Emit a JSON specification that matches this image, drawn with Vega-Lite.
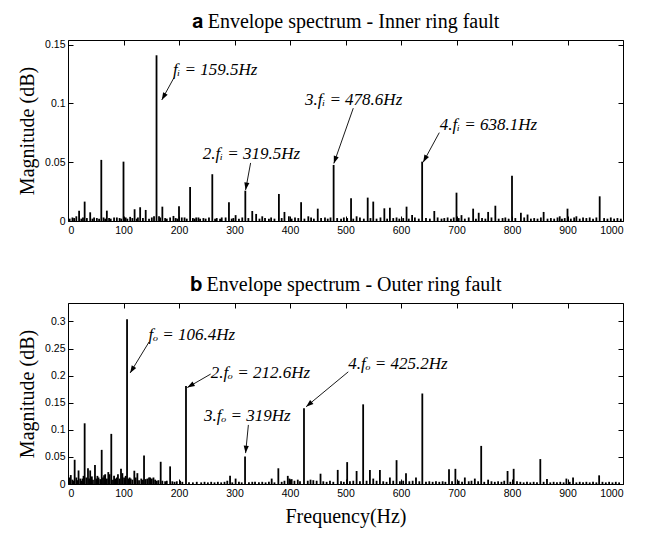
{
  "$schema": "https://vega.github.io/schema/vega-lite/v6.json",
  "padding": {"left": 17, "top": 11, "right": 5, "bottom": 5},
  "background": "white",
  "config": {
    "view": {"stroke": "black", "strokeWidth": 1},
    "axis": {"grid": false, "domain": false, "ticks": true, "tickSize": 5, "offset": -5, "tickColor": "black", "tickWidth": 1, "labelColor": "black", "labelFont": "Liberation Sans", "labelFontSize": 10.5, "labelPadding": 3, "titleFont": "Liberation Serif", "titleFontSize": 20, "titleFontWeight": "normal", "titleColor": "black"},
    "title": {"font": "Liberation Serif", "fontSize": 20, "fontWeight": "normal", "color": "black", "anchor": "middle", "offset": 8},
    "concat": {"spacing": 38}
  },
  "datasets": {
    "a": [
      {"f":15,"m":0.004},{"f":20,"m":0.0088},{"f":30,"m":0.0165},{"f":40,"m":0.0074},{"f":60,"m":0.052},{"f":70,"m":0.0088},{"f":83,"m":0.003},{"f":100,"m":0.0505},{"f":112,"m":0.0035},{"f":120,"m":0.010},{"f":130,"m":0.0117},{"f":140,"m":0.0094},{"f":159.5,"m":0.141},{"f":170,"m":0.0122},{"f":190,"m":0.0043},{"f":200,"m":0.0125},{"f":210,"m":0.003},{"f":220,"m":0.029},{"f":231,"m":0.003},{"f":260,"m":0.0398},{"f":277,"m":0.003},{"f":290,"m":0.016},{"f":302,"m":0.005},{"f":319.5,"m":0.0258},{"f":332,"m":0.0085},{"f":339,"m":0.006},{"f":350,"m":0.004},{"f":380,"m":0.023},{"f":390,"m":0.0077},{"f":398,"m":0.004},{"f":409,"m":0.003},{"f":420,"m":0.016},{"f":433,"m":0.004},{"f":450,"m":0.0105},{"f":463,"m":0.003},{"f":478.6,"m":0.0477},{"f":510,"m":0.0193},{"f":520,"m":0.004},{"f":540,"m":0.0199},{"f":550,"m":0.0165},{"f":570,"m":0.0108},{"f":580,"m":0.0113},{"f":610,"m":0.0122},{"f":620,"m":0.005},{"f":638.1,"m":0.0505},{"f":660,"m":0.0085},{"f":700,"m":0.0241},{"f":709,"m":0.005},{"f":730,"m":0.0105},{"f":740,"m":0.007},{"f":757,"m":0.0077},{"f":770,"m":0.013},{"f":800,"m":0.0386},{"f":816,"m":0.007},{"f":828,"m":0.0055},{"f":857,"m":0.0077},{"f":886,"m":0.004},{"f":900,"m":0.0105},{"f":916,"m":0.004},{"f":928,"m":0.003},{"f":940,"m":0.003},{"f":958,"m":0.021},
      {"f":3,"m":0.002},{"f":8,"m":0.003},{"f":11,"m":0.0025},{"f":24,"m":0.002},{"f":27,"m":0.003},{"f":34,"m":0.0025},{"f":44,"m":0.002},{"f":47,"m":0.003},{"f":52,"m":0.0025},{"f":56,"m":0.002},{"f":64,"m":0.003},{"f":67,"m":0.002},{"f":74,"m":0.0025},{"f":77,"m":0.002},{"f":88,"m":0.003},{"f":93,"m":0.0025},{"f":96,"m":0.002},{"f":104,"m":0.003},{"f":107,"m":0.002},{"f":116,"m":0.0025},{"f":124,"m":0.002},{"f":126,"m":0.003},{"f":135,"m":0.0025},{"f":146,"m":0.002},{"f":151,"m":0.003},{"f":155,"m":0.004},{"f":164,"m":0.004},{"f":166,"m":0.003},{"f":175,"m":0.0025},{"f":178,"m":0.002},{"f":184,"m":0.003},{"f":194,"m":0.0025},{"f":197,"m":0.002},{"f":205,"m":0.003},{"f":214,"m":0.002},{"f":225,"m":0.0025},{"f":228,"m":0.002},{"f":235,"m":0.003},{"f":238,"m":0.002},{"f":244,"m":0.0025},{"f":248,"m":0.002},{"f":254,"m":0.003},{"f":265,"m":0.002},{"f":268,"m":0.0025},{"f":274,"m":0.002},{"f":284,"m":0.003},{"f":295,"m":0.002},{"f":298,"m":0.0025},{"f":308,"m":0.002},{"f":314,"m":0.003},{"f":325,"m":0.0025},{"f":345,"m":0.002},{"f":355,"m":0.0025},{"f":362,"m":0.002},{"f":366,"m":0.003},{"f":372,"m":0.002},{"f":385,"m":0.0025},{"f":403,"m":0.002},{"f":415,"m":0.0025},{"f":426,"m":0.002},{"f":438,"m":0.003},{"f":443,"m":0.002},{"f":456,"m":0.0025},{"f":468,"m":0.002},{"f":473,"m":0.003},{"f":485,"m":0.0025},{"f":492,"m":0.002},{"f":497,"m":0.003},{"f":503,"m":0.0025},{"f":514,"m":0.002},{"f":526,"m":0.003},{"f":533,"m":0.002},{"f":545,"m":0.0025},{"f":556,"m":0.002},{"f":563,"m":0.003},{"f":575,"m":0.002},{"f":586,"m":0.0025},{"f":592,"m":0.003},{"f":597,"m":0.002},{"f":604,"m":0.0025},{"f":614,"m":0.002},{"f":625,"m":0.003},{"f":632,"m":0.002},{"f":645,"m":0.0025},{"f":652,"m":0.002},{"f":666,"m":0.003},{"f":673,"m":0.002},{"f":678,"m":0.0025},{"f":684,"m":0.003},{"f":690,"m":0.002},{"f":695,"m":0.003},{"f":704,"m":0.0025},{"f":715,"m":0.002},{"f":722,"m":0.003},{"f":735,"m":0.002},{"f":746,"m":0.0025},{"f":752,"m":0.002},{"f":763,"m":0.003},{"f":776,"m":0.002},{"f":783,"m":0.0025},{"f":788,"m":0.003},{"f":794,"m":0.002},{"f":806,"m":0.0025},{"f":822,"m":0.003},{"f":834,"m":0.002},{"f":840,"m":0.0025},{"f":846,"m":0.002},{"f":852,"m":0.003},{"f":864,"m":0.002},{"f":870,"m":0.0025},{"f":876,"m":0.002},{"f":882,"m":0.003},{"f":890,"m":0.002},{"f":895,"m":0.0025},{"f":906,"m":0.002},{"f":912,"m":0.003},{"f":922,"m":0.002},{"f":934,"m":0.0025},{"f":946,"m":0.002},{"f":952,"m":0.003},{"f":966,"m":0.0025},{"f":972,"m":0.002},{"f":978,"m":0.003},{"f":984,"m":0.002},{"f":990,"m":0.0025},{"f":996,"m":0.002}
    ],
    "b": [
      {"f":3,"m":0.012},{"f":5,"m":0.0165},{"f":12,"m":0.0447},{"f":19,"m":0.025},{"f":26,"m":0.01},{"f":30,"m":0.112},{"f":36,"m":0.029},{"f":40,"m":0.025},{"f":48.6,"m":0.035},{"f":55,"m":0.012},{"f":60.7,"m":0.063},{"f":67,"m":0.018},{"f":72.6,"m":0.022},{"f":78,"m":0.0925},{"f":85,"m":0.01},{"f":90,"m":0.018},{"f":95.5,"m":0.028},{"f":106.4,"m":0.304},{"f":113,"m":0.01},{"f":119.5,"m":0.0245},{"f":125,"m":0.02},{"f":137,"m":0.0527},{"f":143,"m":0.01},{"f":148,"m":0.012},{"f":154,"m":0.012},{"f":167,"m":0.041},{"f":184,"m":0.0325},{"f":202,"m":0.006},{"f":212.6,"m":0.181},{"f":292,"m":0.015},{"f":302,"m":0.01},{"f":319,"m":0.0508},{"f":337,"m":0.004},{"f":367,"m":0.01},{"f":379,"m":0.029},{"f":396,"m":0.015},{"f":403,"m":0.009},{"f":414,"m":0.008},{"f":425.2,"m":0.14},{"f":437,"m":0.008},{"f":455,"m":0.019},{"f":486,"m":0.026},{"f":503,"m":0.0404},{"f":520,"m":0.024},{"f":531.8,"m":0.147},{"f":544,"m":0.026},{"f":562,"m":0.026},{"f":580,"m":0.012},{"f":592,"m":0.044},{"f":609,"m":0.02},{"f":627,"m":0.012},{"f":638.4,"m":0.167},{"f":686.5,"m":0.027},{"f":698,"m":0.028},{"f":715,"m":0.012},{"f":733,"m":0.01},{"f":744.5,"m":0.0703},{"f":757,"m":0.008},{"f":792,"m":0.024},{"f":803,"m":0.028},{"f":851,"m":0.046},{"f":863,"m":0.009},{"f":898,"m":0.01},{"f":910,"m":0.012},{"f":957,"m":0.016},
      {"f":8,"m":0.008},{"f":10,"m":0.006},{"f":15,"m":0.012},{"f":17,"m":0.007},{"f":22,"m":0.01},{"f":24,"m":0.006},{"f":28,"m":0.015},{"f":33,"m":0.012},{"f":38,"m":0.01},{"f":43,"m":0.014},{"f":45,"m":0.008},{"f":51,"m":0.01},{"f":53,"m":0.015},{"f":58,"m":0.009},{"f":63,"m":0.012},{"f":65,"m":0.016},{"f":70,"m":0.01},{"f":75,"m":0.018},{"f":81,"m":0.008},{"f":83,"m":0.015},{"f":88,"m":0.012},{"f":93,"m":0.01},{"f":98,"m":0.02},{"f":101,"m":0.012},{"f":104,"m":0.015},{"f":109,"m":0.01},{"f":111,"m":0.012},{"f":116,"m":0.008},{"f":122,"m":0.012},{"f":128,"m":0.007},{"f":132,"m":0.01},{"f":135,"m":0.008},{"f":140,"m":0.009},{"f":146,"m":0.012},{"f":151,"m":0.01},{"f":157,"m":0.008},{"f":160,"m":0.006},{"f":163,"m":0.007},{"f":170,"m":0.006},{"f":175,"m":0.005},{"f":178,"m":0.006},{"f":188,"m":0.005},{"f":192,"m":0.004},{"f":196,"m":0.005},{"f":206,"m":0.004},{"f":218,"m":0.003},{"f":225,"m":0.003},{"f":232,"m":0.004},{"f":240,"m":0.003},{"f":246,"m":0.004},{"f":252,"m":0.003},{"f":258,"m":0.004},{"f":264,"m":0.003},{"f":270,"m":0.004},{"f":276,"m":0.003},{"f":282,"m":0.004},{"f":287,"m":0.006},{"f":296,"m":0.003},{"f":308,"m":0.004},{"f":313,"m":0.003},{"f":326,"m":0.003},{"f":332,"m":0.004},{"f":344,"m":0.003},{"f":350,"m":0.004},{"f":356,"m":0.003},{"f":362,"m":0.004},{"f":372,"m":0.003},{"f":385,"m":0.004},{"f":390,"m":0.006},{"f":399,"m":0.01},{"f":408,"m":0.006},{"f":418,"m":0.005},{"f":432,"m":0.006},{"f":442,"m":0.007},{"f":448,"m":0.006},{"f":460,"m":0.005},{"f":466,"m":0.004},{"f":472,"m":0.006},{"f":478,"m":0.004},{"f":492,"m":0.005},{"f":497,"m":0.004},{"f":508,"m":0.005},{"f":514,"m":0.006},{"f":526,"m":0.005},{"f":538,"m":0.006},{"f":550,"m":0.01},{"f":556,"m":0.006},{"f":568,"m":0.005},{"f":574,"m":0.004},{"f":586,"m":0.006},{"f":598,"m":0.005},{"f":604,"m":0.006},{"f":615,"m":0.005},{"f":621,"m":0.006},{"f":633,"m":0.005},{"f":645,"m":0.004},{"f":651,"m":0.005},{"f":657,"m":0.004},{"f":663,"m":0.005},{"f":669,"m":0.004},{"f":675,"m":0.005},{"f":680,"m":0.004},{"f":692,"m":0.005},{"f":704,"m":0.006},{"f":710,"m":0.004},{"f":722,"m":0.005},{"f":727,"m":0.006},{"f":739,"m":0.005},{"f":750,"m":0.004},{"f":763,"m":0.005},{"f":769,"m":0.004},{"f":775,"m":0.005},{"f":781,"m":0.004},{"f":786,"m":0.006},{"f":797,"m":0.004},{"f":809,"m":0.005},{"f":815,"m":0.004},{"f":821,"m":0.003},{"f":827,"m":0.004},{"f":833,"m":0.003},{"f":839,"m":0.004},{"f":845,"m":0.003},{"f":857,"m":0.004},{"f":869,"m":0.003},{"f":875,"m":0.004},{"f":881,"m":0.003},{"f":887,"m":0.004},{"f":893,"m":0.003},{"f":904,"m":0.004},{"f":916,"m":0.003},{"f":922,"m":0.004},{"f":928,"m":0.003},{"f":934,"m":0.004},{"f":940,"m":0.003},{"f":946,"m":0.004},{"f":952,"m":0.003},{"f":963,"m":0.004},{"f":969,"m":0.003},{"f":975,"m":0.004},{"f":981,"m":0.003},{"f":987,"m":0.004},{"f":993,"m":0.003}
    ],
    "annA": [
      {"id":1,"label":"fᵢ = 159.5Hz","tx":189,"ty":0.1286,"x1":191,"y1":0.122,"x2":169,"y2":0.103},
      {"id":2,"label":"2.fᵢ = 319.5Hz","tx":243,"ty":0.057,"x1":329,"y1":0.0494,"x2":320,"y2":0.0264},
      {"id":3,"label":"3.fᵢ = 478.6Hz","tx":427,"ty":0.103,"x1":514,"y1":0.096,"x2":479,"y2":0.049},
      {"id":4,"label":"4.fᵢ = 638.1Hz","tx":670,"ty":0.0818,"x1":669,"y1":0.0752,"x2":640,"y2":0.05}
    ],
    "annB": [
      {"id":1,"label":"fₒ = 106.4Hz","tx":145,"ty":0.2745,"x1":146,"y1":0.262,"x2":112,"y2":0.205},
      {"id":2,"label":"2.fₒ = 212.6Hz","tx":257,"ty":0.205,"x1":257,"y1":0.2028,"x2":215,"y2":0.178},
      {"id":3,"label":"3.fₒ = 319Hz","tx":245,"ty":0.126,"x1":325,"y1":0.109,"x2":320,"y2":0.057},
      {"id":4,"label":"4.fₒ = 425.2Hz","tx":505,"ty":0.222,"x1":505,"y1":0.207,"x2":429,"y2":0.1426}
    ]
  },
  "vconcat": [
    {
      "width": 555, "height": 181,
      "title": {"text": "𝐚 Envelope spectrum - Inner ring fault"},
      "resolve": {"axis": {"x": "independent", "y": "independent"}},
      "layer": [
        {"data": {"name": "a"}, "mark": {"type": "rule", "color": "black", "strokeWidth": 1.8},
         "encoding": {
           "x": {"field": "f", "type": "quantitative", "scale": {"domain": [0, 1000], "nice": false}, "axis": {"values": [0,100,200,300,400,500,600,700,800,900,1000], "format": "d", "title": null, "labelPadding": 4}},
           "y": {"field": "m", "type": "quantitative", "scale": {"domain": [0, 0.154], "nice": false}, "axis": {"values": [0,0.05,0.1,0.15], "format": ".2~f", "title": "Magnitude (dB)", "titlePadding": 7}},
           "y2": {"datum": 0}}},
        {"data": {"name": "annA"}, "mark": {"type": "rule", "color": "black", "strokeWidth": 0.9},
         "encoding": {
           "x": {"field": "x1", "type": "quantitative", "axis": {"orient": "top", "labels": false, "title": null, "values": [0,100,200,300,400,500,600,700,800,900,1000]}},
           "y": {"field": "y1", "type": "quantitative", "axis": {"orient": "right", "labels": false, "title": null, "values": [0,0.05,0.1,0.15]}},
           "x2": {"field": "x2"}, "y2": {"field": "y2"}}},
        {"data": {"name": "annA"}, "mark": {"type": "text", "font": "Liberation Serif", "fontStyle": "italic", "fontSize": 17, "align": "left", "baseline": "middle", "color": "black"},
         "encoding": {
           "x": {"field": "tx", "type": "quantitative", "axis": null},
           "y": {"field": "ty", "type": "quantitative", "axis": null},
           "text": {"field": "label"}}},
        {"data": {"name": "annA"}, "transform": [{"filter": "datum.id == 1"}], "mark": {"type": "point", "shape": "M0,0L-0.35,1L0.35,1Z", "filled": true, "color": "black", "opacity": 1, "size": 220, "angle": 209},
         "encoding": {"x": {"field": "x2", "type": "quantitative", "axis": null}, "y": {"field": "y2", "type": "quantitative", "axis": null}}},
        {"data": {"name": "annA"}, "transform": [{"filter": "datum.id == 2"}], "mark": {"type": "point", "shape": "M0,0L-0.35,1L0.35,1Z", "filled": true, "color": "black", "opacity": 1, "size": 220, "angle": 190},
         "encoding": {"x": {"field": "x2", "type": "quantitative", "axis": null}, "y": {"field": "y2", "type": "quantitative", "axis": null}}},
        {"data": {"name": "annA"}, "transform": [{"filter": "datum.id == 3"}], "mark": {"type": "point", "shape": "M0,0L-0.35,1L0.35,1Z", "filled": true, "color": "black", "opacity": 1, "size": 220, "angle": 199},
         "encoding": {"x": {"field": "x2", "type": "quantitative", "axis": null}, "y": {"field": "y2", "type": "quantitative", "axis": null}}},
        {"data": {"name": "annA"}, "transform": [{"filter": "datum.id == 4"}], "mark": {"type": "point", "shape": "M0,0L-0.35,1L0.35,1Z", "filled": true, "color": "black", "opacity": 1, "size": 220, "angle": 208},
         "encoding": {"x": {"field": "x2", "type": "quantitative", "axis": null}, "y": {"field": "y2", "type": "quantitative", "axis": null}}}
      ]
    },
    {
      "width": 555, "height": 181,
      "title": {"text": "𝐛 Envelope spectrum - Outer ring fault"},
      "resolve": {"axis": {"x": "independent", "y": "independent"}},
      "layer": [
        {"data": {"name": "b"}, "mark": {"type": "rule", "color": "black", "strokeWidth": 1.8},
         "encoding": {
           "x": {"field": "f", "type": "quantitative", "scale": {"domain": [0, 1000], "nice": false}, "axis": {"values": [0,100,200,300,400,500,600,700,800,900,1000], "format": "d", "title": "Frequency(Hz)", "titlePadding": 8, "labelPadding": 4}},
           "y": {"field": "m", "type": "quantitative", "scale": {"domain": [0, 0.334], "nice": false}, "axis": {"values": [0,0.05,0.1,0.15,0.2,0.25,0.3], "format": ".2~f", "title": "Magnitude (dB)", "titlePadding": 7}},
           "y2": {"datum": 0}}},
        {"data": {"name": "annB"}, "mark": {"type": "rule", "color": "black", "strokeWidth": 0.9},
         "encoding": {
           "x": {"field": "x1", "type": "quantitative", "axis": {"orient": "top", "labels": false, "title": null, "values": [0,100,200,300,400,500,600,700,800,900,1000]}},
           "y": {"field": "y1", "type": "quantitative", "axis": {"orient": "right", "labels": false, "title": null, "values": [0,0.05,0.1,0.15,0.2,0.25,0.3]}},
           "x2": {"field": "x2"}, "y2": {"field": "y2"}}},
        {"data": {"name": "annB"}, "mark": {"type": "text", "font": "Liberation Serif", "fontStyle": "italic", "fontSize": 17, "align": "left", "baseline": "middle", "color": "black"},
         "encoding": {
           "x": {"field": "tx", "type": "quantitative", "axis": null},
           "y": {"field": "ty", "type": "quantitative", "axis": null},
           "text": {"field": "label"}}},
        {"data": {"name": "annB"}, "transform": [{"filter": "datum.id == 1"}], "mark": {"type": "point", "shape": "M0,0L-0.35,1L0.35,1Z", "filled": true, "color": "black", "opacity": 1, "size": 220, "angle": 211},
         "encoding": {"x": {"field": "x2", "type": "quantitative", "axis": null}, "y": {"field": "y2", "type": "quantitative", "axis": null}}},
        {"data": {"name": "annB"}, "transform": [{"filter": "datum.id == 2"}], "mark": {"type": "point", "shape": "M0,0L-0.35,1L0.35,1Z", "filled": true, "color": "black", "opacity": 1, "size": 220, "angle": 240},
         "encoding": {"x": {"field": "x2", "type": "quantitative", "axis": null}, "y": {"field": "y2", "type": "quantitative", "axis": null}}},
        {"data": {"name": "annB"}, "transform": [{"filter": "datum.id == 3"}], "mark": {"type": "point", "shape": "M0,0L-0.35,1L0.35,1Z", "filled": true, "color": "black", "opacity": 1, "size": 220, "angle": 185},
         "encoding": {"x": {"field": "x2", "type": "quantitative", "axis": null}, "y": {"field": "y2", "type": "quantitative", "axis": null}}},
        {"data": {"name": "annB"}, "transform": [{"filter": "datum.id == 4"}], "mark": {"type": "point", "shape": "M0,0L-0.35,1L0.35,1Z", "filled": true, "color": "black", "opacity": 1, "size": 220, "angle": 230},
         "encoding": {"x": {"field": "x2", "type": "quantitative", "axis": null}, "y": {"field": "y2", "type": "quantitative", "axis": null}}}
      ]
    }
  ]
}
